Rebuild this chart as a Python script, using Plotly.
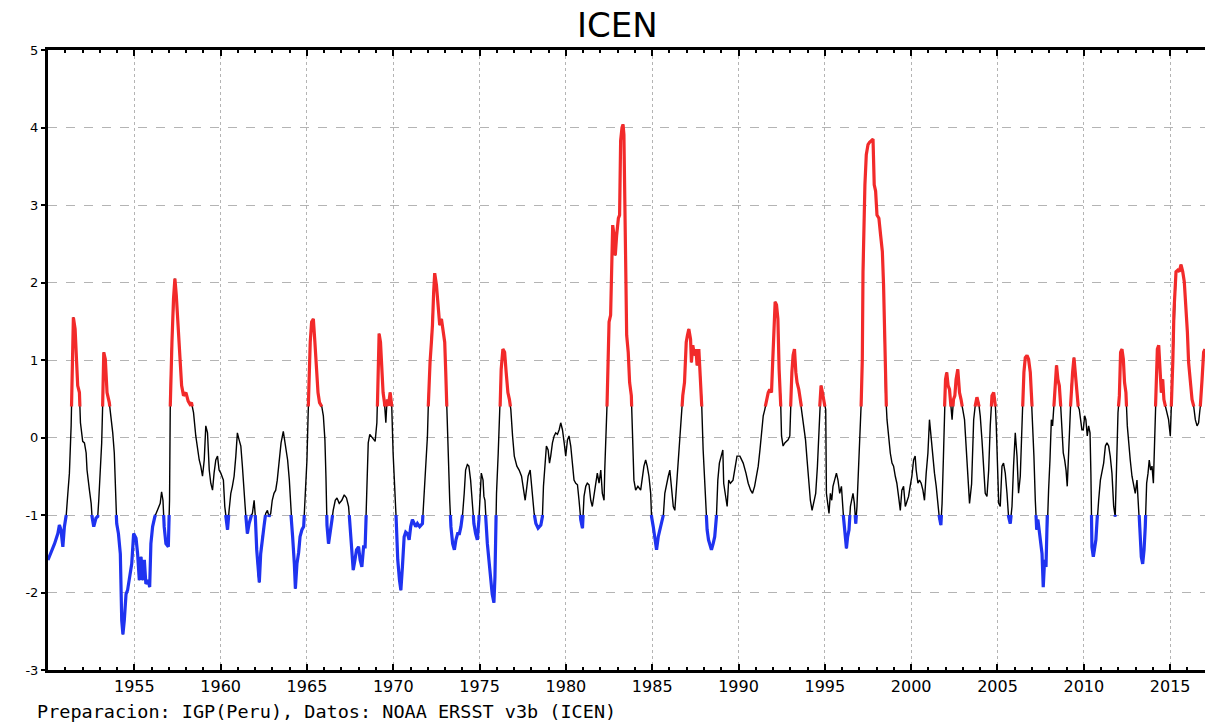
import plotly.graph_objects as go

# ---- data (decimal year, ICEN value) ----
years = [
1950.00,1950.15,1950.38,1950.57,1950.66,1950.75,1950.86,1950.95,1951.05,1951.15,1951.24,1951.34,1951.38,1951.44,1951.47,1951.57,1951.63,1951.72,1951.82,1951.88,
1952.01,1952.11,1952.21,1952.26,1952.40,1952.50,1952.55,1952.65,1952.78,1952.88,1952.94,1953.03,1953.11,1953.19,1953.23,1953.32,1953.36,1953.42,1953.55,1953.65,
1953.75,1953.84,1953.90,1953.98,1954.08,1954.19,1954.27,1954.34,1954.42,1954.52,1954.61,1954.71,1954.85,1954.96,1955.10,1955.19,1955.29,1955.39,1955.48,1955.58,
1955.67,1955.81,1955.89,1955.96,1956.06,1956.19,1956.35,1956.50,1956.58,1956.66,1956.73,1956.83,1956.97,1957.04,1957.08,1957.12,1957.18,1957.27,1957.35,1957.43,
1957.50,1957.58,1957.66,1957.74,1957.85,1957.99,1958.12,1958.22,1958.31,1958.43,1958.56,1958.66,1958.76,1958.85,1958.95,1959.05,1959.14,1959.24,1959.34,1959.43,
1959.53,1959.62,1959.72,1959.82,1959.91,1960.01,1960.16,1960.24,1960.32,1960.40,1960.49,1960.59,1960.68,1960.78,1960.88,1960.97,1961.07,1961.17,1961.26,1961.36,
1961.42,1961.49,1961.55,1961.65,1961.74,1961.84,1961.94,1962.01,1962.09,1962.17,1962.24,1962.32,1962.42,1962.51,1962.61,1962.71,1962.80,1962.90,1962.99,1963.09,
1963.19,1963.28,1963.40,1963.50,1963.63,1963.75,1963.88,1963.98,1964.08,1964.17,1964.27,1964.33,1964.42,1964.52,1964.60,1964.71,1964.81,1964.91,1965.00,1965.06,
1965.10,1965.14,1965.19,1965.27,1965.37,1965.46,1965.54,1965.64,1965.73,1965.85,1965.95,1966.04,1966.10,1966.16,1966.25,1966.35,1966.45,1966.52,1966.64,1966.74,
1966.87,1967.02,1967.16,1967.29,1967.41,1967.49,1967.58,1967.68,1967.78,1967.87,1967.99,1968.08,1968.18,1968.28,1968.37,1968.47,1968.55,1968.64,1968.80,1968.95,
1969.05,1969.13,1969.18,1969.26,1969.34,1969.41,1969.49,1969.57,1969.64,1969.72,1969.82,1969.91,1969.99,1970.09,1970.18,1970.26,1970.36,1970.44,1970.53,1970.63,
1970.72,1970.82,1970.92,1971.01,1971.11,1971.21,1971.30,1971.40,1971.53,1971.69,1971.78,1971.88,1971.98,1972.05,1972.13,1972.21,1972.27,1972.34,1972.40,1972.50,
1972.59,1972.69,1972.79,1972.88,1972.98,1973.04,1973.09,1973.15,1973.19,1973.27,1973.34,1973.44,1973.54,1973.63,1973.73,1973.83,1973.92,1974.02,1974.11,1974.19,
1974.29,1974.38,1974.48,1974.58,1974.67,1974.77,1974.87,1974.96,1975.02,1975.10,1975.20,1975.25,1975.31,1975.37,1975.45,1975.54,1975.64,1975.73,1975.83,1975.89,
1975.93,1975.98,1976.08,1976.18,1976.25,1976.35,1976.45,1976.54,1976.64,1976.73,1976.81,1976.91,1977.01,1977.16,1977.29,1977.43,1977.54,1977.64,1977.74,1977.81,
1977.93,1978.01,1978.08,1978.16,1978.26,1978.39,1978.55,1978.64,1978.70,1978.78,1978.87,1978.97,1979.05,1979.12,1979.22,1979.32,1979.41,1979.51,1979.61,1979.70,
1979.80,1979.90,1979.99,1980.09,1980.18,1980.28,1980.38,1980.47,1980.57,1980.67,1980.76,1980.86,1980.96,1981.05,1981.15,1981.24,1981.34,1981.44,1981.53,1981.63,
1981.73,1981.82,1981.92,1982.02,1982.11,1982.21,1982.25,1982.32,1982.40,1982.44,1982.50,1982.59,1982.65,1982.71,1982.79,1982.86,1982.94,1983.04,1983.11,1983.17,
1983.25,1983.31,1983.36,1983.40,1983.46,1983.52,1983.61,1983.69,1983.79,1983.86,1983.94,1984.04,1984.17,1984.33,1984.42,1984.52,1984.62,1984.71,1984.81,1984.91,
1984.96,1985.06,1985.16,1985.25,1985.35,1985.44,1985.54,1985.64,1985.73,1985.83,1985.93,1986.02,1986.12,1986.22,1986.31,1986.41,1986.49,1986.58,1986.68,1986.77,
1986.87,1986.97,1987.04,1987.12,1987.22,1987.27,1987.35,1987.45,1987.53,1987.60,1987.70,1987.80,1987.85,1987.95,1988.03,1988.10,1988.18,1988.26,1988.33,1988.43,
1988.53,1988.62,1988.72,1988.80,1988.89,1988.99,1989.09,1989.14,1989.24,1989.34,1989.43,1989.53,1989.68,1989.82,1989.91,1990.08,1990.27,1990.43,1990.56,1990.70,
1990.81,1990.93,1991.04,1991.14,1991.24,1991.33,1991.43,1991.52,1991.62,1991.72,1991.81,1991.91,1991.97,1992.04,1992.12,1992.20,1992.28,1992.35,1992.43,1992.49,
1992.58,1992.68,1992.78,1992.87,1992.97,1993.03,1993.09,1993.16,1993.24,1993.32,1993.39,1993.49,1993.59,1993.68,1993.78,1993.88,1993.97,1994.07,1994.16,1994.26,
1994.36,1994.47,1994.57,1994.65,1994.72,1994.78,1994.86,1994.94,1994.99,1995.05,1995.09,1995.17,1995.24,1995.32,1995.40,1995.47,1995.57,1995.67,1995.76,1995.86,
1995.96,1996.01,1996.09,1996.17,1996.25,1996.32,1996.40,1996.48,1996.55,1996.63,1996.71,1996.79,1996.86,1996.94,1997.02,1997.07,1997.13,1997.17,1997.21,1997.25,
1997.32,1997.40,1997.50,1997.59,1997.69,1997.79,1997.86,1997.94,1998.02,1998.13,1998.23,1998.33,1998.40,1998.46,1998.52,1998.60,1998.69,1998.79,1998.89,1998.98,
1999.08,1999.17,1999.27,1999.37,1999.46,1999.56,1999.66,1999.75,1999.85,1999.94,2000.04,2000.14,2000.23,2000.29,2000.39,2000.48,2000.58,2000.68,2000.77,2000.87,
2000.97,2001.06,2001.16,2001.26,2001.35,2001.45,2001.54,2001.64,2001.72,2001.79,2001.87,2001.93,2001.99,2002.06,2002.14,2002.22,2002.30,2002.37,2002.45,2002.53,
2002.60,2002.70,2002.80,2002.89,2002.99,2003.09,2003.18,2003.28,2003.38,2003.50,2003.62,2003.71,2003.81,2003.91,2004.00,2004.10,2004.20,2004.29,2004.39,2004.49,
2004.58,2004.68,2004.78,2004.87,2004.93,2004.99,2005.07,2005.16,2005.26,2005.35,2005.45,2005.55,2005.64,2005.74,2005.84,2005.93,2006.03,2006.13,2006.22,2006.32,
2006.42,2006.47,2006.53,2006.61,2006.71,2006.80,2006.90,2006.96,2007.03,2007.11,2007.19,2007.27,2007.34,2007.42,2007.50,2007.58,2007.65,2007.73,2007.81,2007.88,
2007.96,2008.04,2008.12,2008.19,2008.27,2008.35,2008.42,2008.50,2008.58,2008.66,2008.73,2008.81,2008.89,2008.97,2009.04,2009.12,2009.20,2009.28,2009.35,2009.43,
2009.51,2009.58,2009.66,2009.74,2009.82,2009.89,2009.97,2010.05,2010.12,2010.20,2010.28,2010.36,2010.41,2010.47,2010.55,2010.63,2010.70,2010.78,2010.86,2010.96,
2011.05,2011.15,2011.25,2011.34,2011.44,2011.53,2011.63,2011.73,2011.82,2011.90,2011.98,2012.06,2012.13,2012.21,2012.29,2012.36,2012.44,2012.52,2012.60,2012.69,
2012.79,2012.89,2012.98,2013.08,2013.18,2013.25,2013.33,2013.41,2013.49,2013.56,2013.64,2013.72,2013.79,2013.87,2013.95,2014.03,2014.10,2014.18,2014.26,2014.34,
2014.41,2014.49,2014.57,2014.64,2014.72,2014.82,2014.91,2015.01,2015.07,2015.11,2015.16,2015.22,2015.28,2015.34,2015.44,2015.53,2015.63,2015.73,2015.82,2015.92,
2016.00,2016.07,2016.17,2016.27,2016.36,2016.46,2016.56,2016.65,2016.75,2016.85,2016.94,2017.02]

icen = [
-1.58,-1.50,-1.37,-1.24,-1.13,-1.19,-1.41,-1.15,-1.02,-0.72,-0.46,0.15,0.58,0.93,1.55,1.40,1.01,0.67,0.58,0.19,
-0.05,-0.07,-0.20,-0.42,-0.68,-0.85,-1.02,-1.15,-1.04,-1.02,-0.81,-0.42,-0.07,0.62,1.10,1.01,0.75,0.58,0.45,0.28,
0.06,-0.20,-0.72,-1.11,-1.24,-1.50,-2.36,-2.54,-2.36,-2.02,-1.97,-1.84,-1.63,-1.24,-1.30,-1.50,-1.84,-1.54,-1.84,-1.58,
-1.89,-1.84,-1.93,-1.37,-1.15,-1.02,-0.94,-0.85,-0.70,-0.81,-1.15,-1.37,-1.41,-0.81,0.36,1.01,1.23,1.79,2.05,1.84,
1.58,1.14,0.88,0.67,0.54,0.58,0.47,0.43,0.45,0.32,0.02,-0.16,-0.29,-0.37,-0.50,-0.29,0.15,0.06,-0.42,-0.59,
-0.68,-0.46,-0.29,-0.24,-0.42,-0.46,-0.55,-0.89,-1.06,-1.19,-0.94,-0.72,-0.63,-0.50,-0.24,0.06,-0.03,-0.11,-0.37,-0.63,
-0.89,-1.11,-1.24,-1.11,-1.02,-0.98,-0.81,-1.02,-1.45,-1.76,-1.87,-1.50,-1.28,-1.15,-0.98,-0.94,-1.02,-0.98,-0.81,-0.72,
-0.68,-0.55,-0.33,-0.07,0.08,-0.11,-0.29,-0.55,-1.02,-1.28,-1.63,-1.95,-1.63,-1.48,-1.28,-1.19,-1.15,-0.72,-0.29,0.23,
0.58,0.80,1.23,1.49,1.53,1.23,0.88,0.58,0.45,0.41,0.28,-0.03,-0.50,-1.13,-1.37,-1.24,-1.06,-0.94,-0.81,-0.78,
-0.85,-0.81,-0.74,-0.78,-0.89,-1.11,-1.45,-1.71,-1.58,-1.45,-1.41,-1.58,-1.67,-1.41,-1.41,-0.72,-0.07,0.04,0.00,-0.05,
0.19,0.75,1.34,1.23,0.88,0.58,0.45,0.19,0.49,0.41,0.58,0.41,-0.20,-0.63,-1.11,-1.58,-1.84,-1.97,-1.67,-1.28,
-1.22,-1.24,-1.32,-1.15,-1.06,-1.11,-1.15,-1.11,-1.15,-1.11,-0.72,-0.46,0.02,0.58,0.97,1.23,1.45,1.88,2.12,1.97,
1.75,1.45,1.53,1.40,1.23,0.84,0.49,0.02,-0.42,-0.81,-1.15,-1.37,-1.45,-1.32,-1.24,-1.24,-1.15,-0.98,-0.72,-0.42,
-0.35,-0.37,-0.55,-0.81,-1.11,-1.24,-1.32,-1.06,-0.72,-0.46,-0.55,-0.76,-0.81,-1.11,-1.37,-1.58,-1.84,-2.02,-2.13,-1.80,
-1.32,-0.72,-0.20,0.32,0.88,1.14,1.10,0.84,0.58,0.49,0.36,0.02,-0.24,-0.37,-0.42,-0.50,-0.68,-0.81,-0.63,-0.50,
-0.42,-0.63,-0.81,-0.98,-1.11,-1.17,-1.13,-1.02,-0.63,-0.33,-0.11,-0.16,-0.33,-0.24,-0.07,0.02,0.06,0.04,0.10,0.19,
0.10,-0.07,-0.24,-0.03,0.02,-0.11,-0.33,-0.55,-0.59,-0.61,-0.81,-1.06,-1.17,-0.76,-0.63,-0.59,-0.61,-0.81,-0.89,-0.76,
-0.63,-0.46,-0.59,-0.42,-0.72,-0.81,-0.42,-0.03,0.54,1.01,1.49,1.58,2.14,2.74,2.61,2.35,2.61,2.83,2.87,3.83,
4.00,4.04,3.91,3.13,2.23,1.32,1.10,0.71,0.54,0.02,-0.55,-0.68,-0.63,-0.68,-0.50,-0.37,-0.29,-0.37,-0.50,-0.72,
-1.02,-1.15,-1.32,-1.45,-1.28,-1.19,-1.11,-1.02,-0.72,-0.59,-0.50,-0.42,-0.63,-0.89,-0.94,-0.63,-0.29,0.02,0.23,0.54,
0.71,1.23,1.32,1.40,1.27,0.97,1.19,1.06,1.14,0.93,1.14,0.71,0.54,-0.16,-0.50,-0.85,-1.19,-1.32,-1.37,-1.45,
-1.37,-1.28,-1.02,-0.55,-0.33,-0.24,-0.16,-0.59,-0.72,-0.89,-0.55,-0.59,-0.55,-0.33,-0.24,-0.24,-0.33,-0.46,-0.59,-0.68,
-0.72,-0.63,-0.50,-0.37,-0.16,0.06,0.28,0.36,0.49,0.58,0.62,0.58,0.93,1.40,1.75,1.71,1.53,0.88,0.54,0.02,
-0.11,-0.07,-0.05,-0.03,0.02,0.49,0.84,1.06,1.14,0.84,0.71,0.62,0.45,0.36,0.15,-0.03,-0.29,-0.55,-0.81,-0.94,
-0.85,-0.72,-0.37,0.10,0.49,0.67,0.58,0.49,0.41,0.36,-0.72,-0.85,-0.98,-0.72,-0.81,-0.63,-0.55,-0.46,-0.55,-0.72,
-0.63,-0.85,-1.06,-1.24,-1.43,-1.28,-1.19,-0.89,-0.81,-0.72,-0.85,-1.11,-0.89,-0.42,-0.20,0.23,0.58,1.01,2.14,2.61,
3.26,3.65,3.78,3.81,3.83,3.85,3.26,3.18,2.87,2.83,2.61,2.40,1.97,1.36,0.58,0.23,0.02,-0.20,-0.33,-0.37,
-0.50,-0.59,-0.76,-0.94,-0.68,-0.63,-0.89,-0.81,-0.76,-0.63,-0.50,-0.29,-0.24,-0.42,-0.59,-0.55,-0.59,-0.68,-0.81,-0.46,
-0.20,0.23,-0.03,-0.20,-0.46,-0.63,-0.85,-1.06,-1.13,-0.85,-0.24,0.36,0.75,0.84,0.67,0.62,0.41,0.23,0.49,0.54,
0.75,0.88,0.58,0.49,0.36,0.23,-0.07,-0.55,-0.85,-0.60,0.23,0.41,0.52,0.45,0.28,-0.03,-0.37,-0.72,-0.76,-0.42,
0.15,0.54,0.58,0.45,0.15,-0.46,-0.85,-0.89,-0.37,-0.33,-0.46,-0.72,-1.02,-1.11,-0.89,-0.37,0.06,-0.24,-0.72,-0.50,
0.02,0.49,0.84,1.03,1.06,1.01,0.84,0.58,0.28,-0.24,-0.81,-1.19,-1.06,-1.19,-1.32,-1.50,-1.93,-1.58,-1.67,-1.02,
-0.68,-0.29,0.23,0.15,0.41,0.75,0.93,0.75,0.67,0.41,0.15,-0.20,-0.29,-0.42,-0.63,-0.07,0.23,0.67,0.84,1.03,
0.84,0.58,0.41,0.36,0.23,0.10,0.10,0.28,0.23,0.02,0.15,0.06,-0.46,-1.41,-1.54,-1.45,-1.32,-1.02,-0.81,-0.55,
-0.42,-0.33,-0.11,-0.07,-0.11,-0.24,-0.46,-0.89,-1.02,-0.24,0.32,0.54,1.10,1.14,1.01,0.71,0.58,0.15,-0.11,-0.29,
-0.50,-0.63,-0.72,-0.55,-0.89,-1.19,-1.54,-1.63,-1.45,-1.15,-0.59,-0.46,-0.29,-0.42,-0.37,-0.59,0.02,0.58,1.14,1.19,
0.93,0.58,0.75,0.49,0.41,0.32,0.23,0.02,0.41,0.71,1.01,1.62,2.01,2.14,2.16,2.14,2.23,2.14,2.01,1.66,
1.36,0.97,0.67,0.49,0.41,0.23,0.15,0.19,0.41,0.75,1.10,1.14]

tick_years = [1955, 1960, 1965, 1970, 1975, 1980, 1985, 1990, 1995, 2000, 2005, 2010, 2015]
tick_labels = [str(y) for y in tick_years]
y_ticks = [5, 4, 3, 2, 1, 0, -1, -2, -3]

WARM = 0.4    # red above this
COLD = -1.0   # blue below this


def highlight(xs, ys, thr, above):
    """Pieces of the polyline lying beyond a threshold (None-separated)."""
    def inside(v):
        return v >= thr if above else v <= thr
    ox, oy = [], []
    last = None
    for i in range(len(xs) - 1):
        x0, y0, x1, y1 = xs[i], ys[i], xs[i + 1], ys[i + 1]
        a, b = inside(y0), inside(y1)
        if not a and not b:
            continue
        if a and b:
            p0, p1 = (x0, y0), (x1, y1)
        else:
            f = (thr - y0) / (y1 - y0)
            xc = x0 + f * (x1 - x0)
            p0, p1 = ((x0, y0), (xc, thr)) if a else ((xc, thr), (x1, y1))
        if last != p0:
            if ox:
                ox.append(None); oy.append(None)
            ox.append(p0[0]); oy.append(p0[1])
        ox.append(p1[0]); oy.append(p1[1])
        last = p1
    return ox, oy


rx, ry = highlight(years, icen, WARM, True)
bx, by = highlight(years, icen, COLD, False)

fig = go.Figure()
fig.add_trace(go.Scatter(x=years, y=icen, mode="lines",
                         line=dict(color="black", width=1.4), hoverinfo="skip"))
fig.add_trace(go.Scatter(x=rx, y=ry, mode="lines",
                         line=dict(color="#f22a2a", width=3.2), hoverinfo="skip"))
fig.add_trace(go.Scatter(x=bx, y=by, mode="lines",
                         line=dict(color="#1f33f0", width=3.2), hoverinfo="skip"))

FONT = "DejaVu Sans"
fig.update_layout(
    width=1205, height=723,
    margin=dict(l=48, r=0, t=50, b=53),
    paper_bgcolor="white", plot_bgcolor="white",
    showlegend=False,
    xaxis=dict(
        range=[1950, 2017.02],
        tickmode="array", tickvals=tick_years, ticktext=tick_labels,
        ticks="inside", ticklen=6, tickwidth=1.5, tickcolor="black",
        minor=dict(tickmode="linear", tick0=1950, dtick=1, ticks="inside",
                   ticklen=3, tickcolor="black", showgrid=False),
        showgrid=True, gridcolor="#b4b4b4", gridwidth=1, griddash="dot",
        showline=True, linecolor="black", linewidth=2.5, mirror="ticks",
        zeroline=False,
        tickfont=dict(family=FONT, size=16, color="black"),
    ),
    yaxis=dict(
        range=[-3, 5],
        tickmode="array", tickvals=y_ticks, ticktext=[str(v) for v in y_ticks],
        ticks="outside", ticklen=4, tickwidth=1.5, tickcolor="black",
        showgrid=True, gridcolor="#b4b4b4", gridwidth=1, griddash="dash",
        showline=True, linecolor="black", linewidth=3, mirror=False,
        zeroline=False,
        tickfont=dict(family=FONT, size=13, color="black"),
    ),
    annotations=[
        dict(text="ICEN", xref="paper", yref="paper", x=0.4918, y=1.0403,
             xanchor="center", yanchor="middle", showarrow=False,
             font=dict(family=FONT, size=34, color="black")),
        dict(text="Preparacion: IGP(Peru), Datos: NOAA ERSST v3b (ICEN)",
             xref="paper", yref="paper", x=-0.0112, y=-0.0675,
             xanchor="left", yanchor="middle", showarrow=False,
             font=dict(family="DejaVu Sans Mono", size=18.5, color="black")),
    ],
)

fig.write_html(
    "out.html",
    config={"displayModeBar": False},
    post_script="document.body.style.margin='0';document.body.style.overflow='hidden';",
)
